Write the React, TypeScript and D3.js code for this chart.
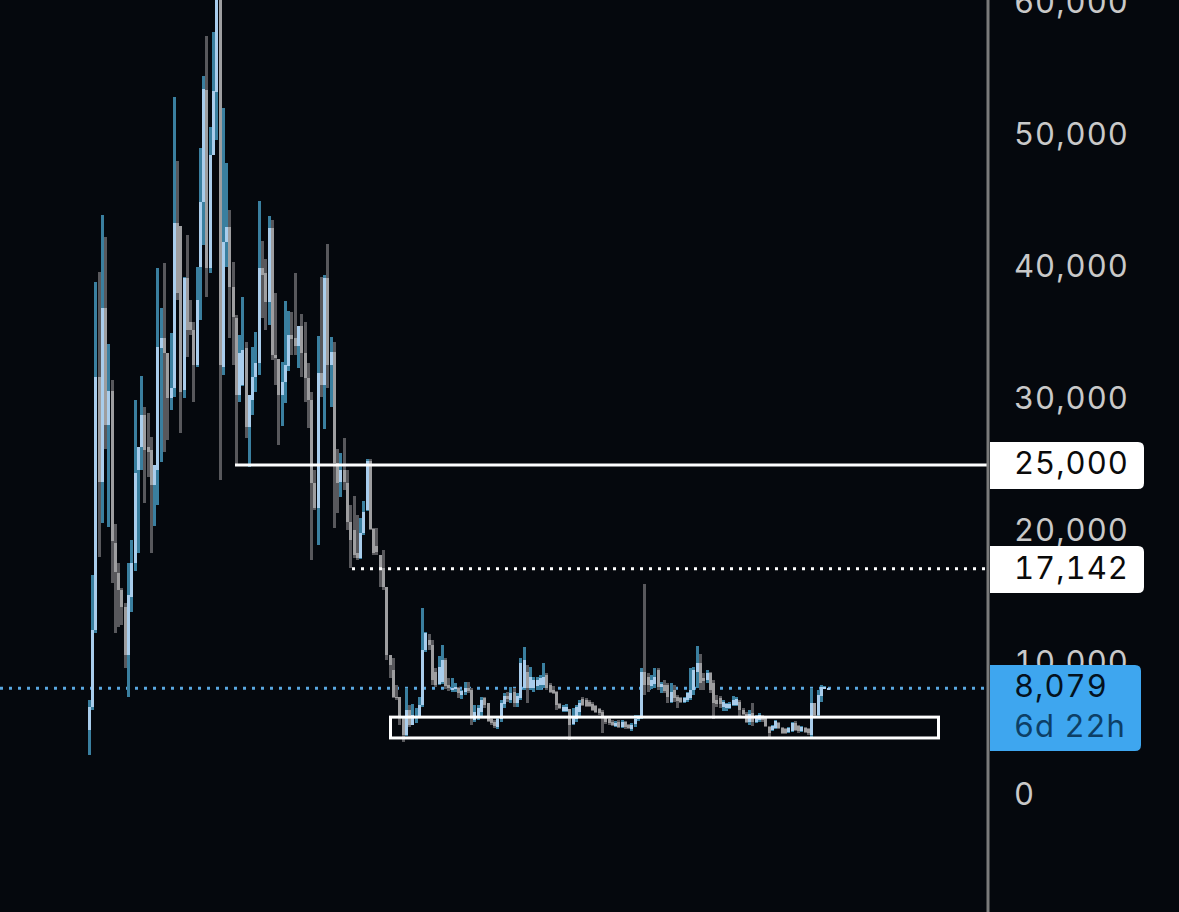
import { useEffect, useRef } from "react";
import * as d3 from "d3";

const WIDTH = 1179;
const HEIGHT = 912;

const priceTicks = [0, 10000, 20000, 30000, 40000, 50000, 60000];
const lastPrice = 8079;
const countdown = "6d 22h";
const resistance = 25000;
const dottedLevel = 17142;
const zoneTop = 5900;
const zoneBottom = 4320;

const opens = [
  4925, 6665, 12500, 31650, 23700, 36900, 28050, 30600, 19100, 16800, 15550, 14250, 10610, 15000, 17600, 24600, 26350, 28800, 26350, 26150,
  23500, 24600, 33850, 34600, 33500, 30100, 30850, 43350, 43100, 30700, 39150, 35850, 35250, 32600, 40000, 44900, 53400, 39900, 48500, 53250,
  60450, 32450, 41900, 43050, 38500, 36150, 30300, 31050, 33850, 27900, 29900, 31650, 32750, 39900, 39550, 37350, 42950, 33350, 33050, 30300,
  31300, 32500, 34850, 34600, 34000, 35550, 33500, 31600, 29900, 23650, 21750, 31950, 31050, 39150, 32600, 33550, 25150, 23700, 24600, 23650,
  20700, 20100, 18350, 17950, 19850, 21600, 25300, 20150, 18850, 18200, 17200, 15750, 10610, 9470, 7425, 7425, 5835, 4545, 6440, 5305,
  5835, 5985, 6820, 10990, 11750, 11350, 9320, 8410, 8560, 10230, 8330, 8030, 8030, 8105, 7575, 7800, 8105, 7955, 5680, 5835,
  6290, 7350, 6970, 5760, 5530, 5150, 5760, 6895, 7500, 7200, 7800, 6970, 7350, 8105, 9320, 8105, 8105, 8260, 8330, 8330,
  9090, 8330, 7955, 7800, 6895, 6365, 6365, 6515, 5380, 5760, 6290, 7270, 7200, 7045, 6895, 6740, 6515, 6290, 5910, 5760,
  5530, 5230, 5530, 5150, 5530, 5305, 5000, 5380, 5760, 5910, 9320, 8940, 8260, 8410, 9470, 8180, 8330, 8330, 7045, 7955,
  7425, 7350, 7045, 7200, 7350, 7955, 9320, 10000, 8860, 8710, 9240, 8485, 7200, 7350, 6665, 6590, 6590, 6820, 6820, 7045,
  6440, 6135, 5530, 6210, 5530, 5680, 5985, 5835, 5150, 4925, 5075, 5455, 5075, 5000, 4770, 4850, 5455, 5230, 4850, 5075,
  5000, 4545, 6970, 6060, 7500, 8105, 8030,
];

const closes = [
  6665, 12500, 31650, 23700, 36900, 28050, 30600, 19250, 16900, 15550, 14250, 10610, 15150, 17600, 24400, 26350, 28800, 26150, 26000, 23500,
  25000, 33950, 34600, 33500, 30100, 30850, 43350, 38050, 30550, 39150, 35250, 35250, 32600, 37500, 44900, 53500, 39900, 48500, 53350, 60450,
  32600, 41900, 43050, 38500, 36200, 30300, 33500, 33700, 27900, 30300, 31650, 32750, 39900, 39400, 37350, 42950, 33350, 33100, 30300, 31300,
  32600, 34850, 34550, 34000, 35550, 33500, 31600, 29900, 23650, 21750, 31950, 31050, 39150, 32600, 33550, 25150, 23650, 24600, 23700, 20700,
  19300, 18200, 17950, 19850, 21450, 25300, 20150, 18350, 18400, 17200, 15750, 10610, 9850, 7425, 7350, 5835, 4545, 6440, 5305, 6060,
  5985, 6820, 10990, 12300, 11350, 8710, 8330, 9700, 10230, 8260, 8105, 8105, 8180, 7730, 7880, 8105, 7880, 5910, 6290, 6590,
  7200, 6820, 5605, 5455, 5230, 5760, 6970, 7500, 7270, 7730, 6970, 7500, 10000, 10230, 8105, 8940, 8710, 8710, 8860, 8940,
  8105, 7800, 7730, 6820, 6590, 6665, 6665, 5305, 5835, 6665, 6970, 6820, 6740, 6740, 6440, 6290, 6210, 5835, 5530, 5455,
  5305, 5455, 5150, 5530, 5150, 5075, 5305, 5760, 5910, 9320, 8330, 8330, 8710, 8940, 8180, 8410, 7880, 7425, 7800, 7350,
  7120, 7045, 7350, 7730, 7955, 9470, 10000, 8485, 8640, 9240, 7955, 6970, 6895, 6895, 7045, 6895, 6895, 7200, 7270, 6440,
  6135, 5530, 6135, 5530, 5910, 6060, 5680, 5230, 4695, 5230, 5605, 5075, 4695, 4695, 5075, 5455, 4925, 4850, 5150, 4770,
  4695, 6970, 6060, 7575, 8180, 8180, 8079,
];

const highs = [
  7200, 16650, 38850, 39620, 43950, 42300, 34150, 31450, 20550, 17600, 15700, 14550, 17600, 19300, 29900, 26350, 31750, 29400, 28950, 27100,
  25000, 39900, 36900, 40300, 33500, 35000, 52900, 48050, 43100, 39250, 42450, 37500, 35850, 40000, 49000, 54450, 57500, 50600, 57800, 61750,
  61750, 52050, 47900, 44300, 40400, 36350, 34850, 37750, 34300, 30300, 33950, 35100, 45000, 41950, 40600, 43850, 43550, 38050, 33050, 32800,
  37450, 36650, 36600, 39550, 35550, 36450, 35850, 32750, 30550, 24600, 34800, 39250, 39400, 41750, 34700, 34300, 26200, 25900, 27050, 24600,
  21950, 22650, 21200, 21000, 22300, 25450, 25450, 20250, 20250, 18200, 18550, 15750, 10610, 10380, 8330, 7425, 5910, 8105, 6820, 6895,
  6590, 7425, 14150, 12350, 12200, 11750, 9620, 10530, 11350, 10380, 8860, 8860, 8485, 8180, 7955, 8560, 8560, 8105, 6820, 6820,
  7425, 7425, 6970, 5835, 5680, 5910, 7200, 7730, 7800, 8180, 8105, 7730, 10380, 11200, 9850, 9700, 8940, 8940, 9090, 10000,
  9240, 8485, 8260, 7880, 6970, 6820, 6895, 6515, 6590, 6820, 7200, 7425, 7350, 7200, 7045, 6820, 6590, 6440, 5910, 5835,
  5680, 5605, 5680, 5680, 5605, 5380, 5455, 6060, 6060, 9620, 16000, 9240, 9090, 9620, 9620, 8560, 8710, 8485, 8485, 8330,
  7575, 7425, 7425, 7800, 9620, 9700, 11300, 10680, 9240, 9470, 9320, 8710, 7575, 7500, 7200, 6970, 7045, 7500, 7425, 7200,
  6590, 6290, 6440, 6970, 6060, 6210, 6060, 5910, 5230, 5305, 5680, 5530, 5150, 5075, 5150, 5530, 5605, 5305, 5230, 5150,
  5075, 8105, 6970, 7955, 8330, 8260, 8110,
];

const lows = [
  3030, 6440, 12300, 18050, 20600, 26200, 20300, 16050, 12300, 12750, 12900, 9620, 7425, 13850, 16950, 18350, 24600, 22100, 24100, 18350,
  20400, 21950, 25250, 26000, 26900, 29150, 30150, 37500, 27450, 30100, 33200, 34850, 29800, 32450, 36000, 41650, 37750, 39550, 48500, 49600,
  23850, 31800, 40000, 34600, 32600, 25000, 29800, 31000, 27050, 24850, 28800, 30550, 31800, 36150, 35250, 35600, 32950, 31050, 26500, 27950,
  29700, 32100, 33350, 33350, 32350, 31650, 29800, 27800, 17800, 21600, 18950, 30150, 27750, 30850, 29400, 20250, 21350, 22600, 23100, 20100,
  17200, 17950, 17800, 17900, 19700, 21500, 20100, 18200, 18200, 15750, 15550, 10230, 8860, 7350, 7200, 5305, 4015, 4470, 5150, 5305,
  5455, 5910, 6665, 10830, 10990, 8330, 8180, 8330, 8410, 8030, 7880, 7800, 7800, 7350, 7270, 7575, 7730, 5305, 5530, 5680,
  5985, 6590, 5530, 5305, 5075, 5000, 5530, 6590, 7045, 6970, 6665, 6665, 7200, 7955, 6970, 7955, 7800, 7955, 7955, 8105,
  7955, 7730, 7650, 6440, 6515, 6290, 6290, 4165, 5305, 5530, 5985, 6740, 6665, 6665, 6365, 6210, 6060, 4695, 5380, 5305,
  5230, 5150, 5075, 5075, 5000, 5000, 4850, 5150, 5605, 5760, 7575, 7800, 8030, 8105, 7955, 7730, 7730, 6970, 6970, 7045,
  6590, 6970, 6970, 7045, 7200, 7575, 8105, 7955, 7955, 8485, 7730, 5760, 6665, 6590, 6365, 6365, 6515, 6740, 6740, 5985,
  6060, 5455, 5305, 5230, 5455, 5530, 5530, 5150, 4320, 4850, 5000, 5000, 4620, 4620, 4695, 4770, 4850, 4695, 4770, 4695,
  4545, 4395, 5985, 5985, 7045, 8030, 8030,
];

const COLORS = {
  bg: "#05080d",
  upWick: "#3a7f9f",
  upBody: "#a9cdec",
  downWick: "#58585c",
  downBody: "#9e9ea0",
  axis: "#7a7a7a",
  tick: "#c9c9c9",
  last: "#3ea6ef",
  lastLine: "#5aa7e0",
};

const FONT = "Inter, 'Liberation Sans', sans-serif";

export default function App() {
  const svgRef = useRef<SVGSVGElement>(null);

  useEffect(() => {
    const svg = d3.select(svgRef.current);
    svg.selectAll("*").remove();

    const x = d3.scaleLinear().domain([0, closes.length - 1]).range([89.3, 828]);
    const y = d3.scaleLinear().domain([0, 60000]).range([795, 3]);
    const axisX = 988;

    svg.append("rect").attr("width", WIDTH).attr("height", HEIGHT).attr("fill", COLORS.bg);

    // Last price dotted line sits under the candles
    svg.append("line")
      .attr("x1", 0)
      .attr("x2", axisX - 3)
      .attr("y1", y(lastPrice))
      .attr("y2", y(lastPrice))
      .attr("stroke", COLORS.lastLine)
      .attr("stroke-width", 3)
      .attr("stroke-dasharray", "3,6");

    // Candles
    const candles = svg.append("g").attr("shape-rendering", "crispEdges");
    closes.forEach((close, i) => {
      const open = opens[i];
      const up = close >= open;
      const cx = x(i) - 1.5;
      candles.append("rect")
        .attr("x", cx)
        .attr("y", y(highs[i]))
        .attr("width", 3)
        .attr("height", Math.max(1, y(lows[i]) - y(highs[i])))
        .attr("fill", up ? COLORS.upWick : COLORS.downWick);
      candles.append("rect")
        .attr("x", cx)
        .attr("y", y(Math.max(open, close)))
        .attr("width", 3)
        .attr("height", Math.max(1.5, Math.abs(y(open) - y(close))))
        .attr("fill", up ? COLORS.upBody : COLORS.downBody);
    });

    // Drawn levels
    svg.append("line")
      .attr("x1", 235)
      .attr("x2", axisX)
      .attr("y1", y(resistance))
      .attr("y2", y(resistance))
      .attr("stroke", "#fff")
      .attr("stroke-width", 3);

    svg.append("line")
      .attr("x1", 352)
      .attr("x2", axisX - 3)
      .attr("y1", y(dottedLevel))
      .attr("y2", y(dottedLevel))
      .attr("stroke", "#fff")
      .attr("stroke-width", 3)
      .attr("stroke-dasharray", "3,6");

    svg.append("rect")
      .attr("x", 390.5)
      .attr("y", y(zoneTop))
      .attr("width", 548)
      .attr("height", y(zoneBottom) - y(zoneTop))
      .attr("fill", "none")
      .attr("stroke", "#fff")
      .attr("stroke-width", 3);

    // Price axis
    const axis = d3.axisRight(y)
      .tickValues(priceTicks)
      .tickSize(0)
      .tickPadding(0)
      .tickFormat((d) => d3.format(",d")(d as number));

    const axisG = svg.append("g").attr("transform", "translate(1014,-2)").call(axis);
    axisG.select(".domain").remove();
    axisG.selectAll("text")
      .attr("font-family", FONT)
      .attr("font-size", 31)
      .attr("letter-spacing", 1)
      .style("font-variant-numeric", "tabular-nums")
      .attr("fill", COLORS.tick)
      .attr("dy", "0.36em");

    svg.append("line")
      .attr("x1", axisX)
      .attr("x2", axisX)
      .attr("y1", 0)
      .attr("y2", HEIGHT)
      .attr("stroke", COLORS.axis)
      .attr("stroke-width", 3);

    // Price tags, square on the axis side and rounded on the right
    const tag = (top: number, bottom: number, right: number, fill: string) => {
      const r = 6;
      const left = axisX + 2;
      svg.append("path")
        .attr("d", `M${left},${top}H${right - r}Q${right},${top} ${right},${top + r}V${bottom - r}Q${right},${bottom} ${right - r},${bottom}H${left}Z`)
        .attr("fill", fill);
    };

    const label = (text: string, py: number, fill: string) => {
      svg.append("text")
        .attr("x", 1014)
        .attr("y", py)
        .attr("dy", "0.36em")
        .attr("font-family", FONT)
        .attr("font-size", 31)
        .attr("letter-spacing", 1)
        .style("font-variant-numeric", "tabular-nums")
        .attr("fill", fill)
        .text(text);
    };

    tag(442, 489, 1144, "#fff");
    label(d3.format(",d")(resistance), 463, "#0a0a0a");

    tag(546, 593, 1144, "#fff");
    label(d3.format(",d")(dottedLevel), 568, "#0a0a0a");

    tag(665, 751, 1141, COLORS.last);
    label(d3.format(",d")(lastPrice), 686, "#04121f");
    label(countdown, 726, "#0d3f66");
  }, []);

  return (
    <svg
      ref={svgRef}
      width={WIDTH}
      height={HEIGHT}
      viewBox={`0 0 ${WIDTH} ${HEIGHT}`}
      style={{ position: "absolute", left: 0, top: 0, display: "block" }}
    />
  );
}
